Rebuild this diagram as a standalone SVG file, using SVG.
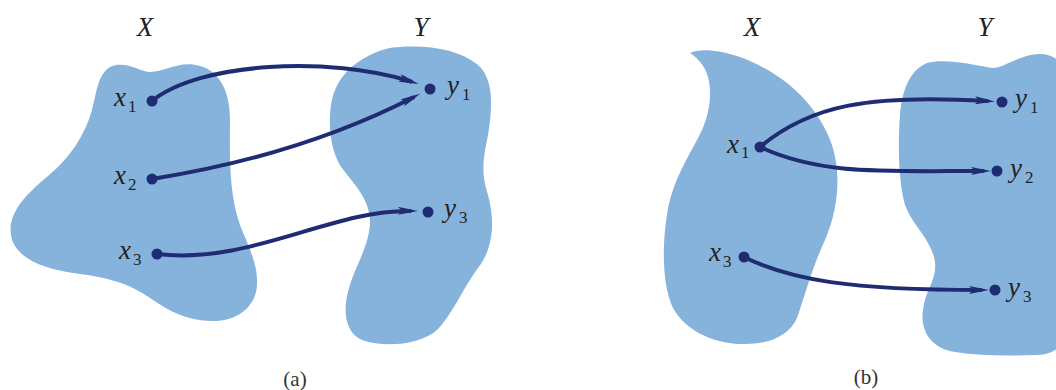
<svg xmlns="http://www.w3.org/2000/svg" width="1056" height="390" viewBox="0 0 1056 390">
<style>
.blob{fill:#86b3dc;stroke:none}
.arr{fill:none;stroke:#1f2c73;stroke-width:4;stroke-linecap:round;marker-end:url(#ah)}
.dot{fill:#1f2c73}
.v{font-family:"Liberation Serif","Times New Roman","DejaVu Serif",serif;font-style:italic;font-size:27px;fill:#222}
.s{font-family:"Liberation Serif","Times New Roman","DejaVu Serif",serif;font-size:17px;fill:#222}
.t{font-family:"Liberation Serif","Times New Roman","DejaVu Serif",serif;font-style:italic;font-size:27px;fill:#222;text-anchor:middle}
.c{font-family:"Liberation Serif","Times New Roman","DejaVu Serif",serif;font-size:21px;fill:#333;text-anchor:middle}
</style>
<defs>
<marker id="ah" viewBox="0 0 20 8" refX="12" refY="4" markerWidth="20" markerHeight="8" markerUnits="userSpaceOnUse" orient="auto">
<path d="M0,0 L20,4 L0,8 L4,4 Z" fill="#1f2c73"/>
</marker>
</defs>
<rect width="1056" height="390" fill="#fff"/>
<g id="panel-a">
<g id="setXa">
<path class="blob" d="M110,67 C125,60 140,72 150,72 C165,72 180,60 200,66 C222,72 230,95 230,120 C230,150 228,190 240,225 C250,250 258,265 257,285 C256,305 240,320 215,321 C190,322 170,312 150,298 C130,284 110,278 80,274 C50,270 20,262 12,240 C5,215 25,195 48,176 C70,158 85,135 92,110 C97,90 98,75 110,67 Z"/>
<text class="t" x="145" y="36">X</text>
</g>
<g id="setYa">
<path class="blob" d="M400,47 C430,45 460,50 478,65 C495,80 492,110 488,135 C484,155 480,170 488,195 C496,225 492,250 478,268 C462,290 452,315 437,330 C420,345 385,348 362,340 C345,333 343,310 348,292 C353,270 370,245 370,222 C370,200 355,185 345,172 C330,155 328,125 331,105 C335,80 350,65 370,55 C380,50 390,47 400,47 Z"/>
<text class="t" x="421" y="36">Y</text>
</g>
<g id="a-x1"><circle class="dot" cx="152" cy="101" r="5.5"/><text class="v" x="114" y="106">x</text><text class="s" x="128" y="112">1</text></g>
<g id="a-x2"><circle class="dot" cx="152" cy="179" r="5.5"/><text class="v" x="114" y="184">x</text><text class="s" x="128" y="190">2</text></g>
<g id="a-x3"><circle class="dot" cx="157" cy="254" r="5.5"/><text class="v" x="119" y="259">x</text><text class="s" x="133" y="265">3</text></g>
<g id="a-y1"><circle class="dot" cx="430" cy="89" r="5.5"/><text class="v" x="447" y="94">y</text><text class="s" x="462" y="100">1</text></g>
<g id="a-y3"><circle class="dot" cx="428" cy="212" r="5.5"/><text class="v" x="444" y="217">y</text><text class="s" x="459" y="223">3</text></g>
<text class="c" x="295" y="386">(a)</text>
</g>
<g id="panel-b">
<g id="setXb">
<path class="blob" d="M690,53 C700,48 720,50 740,57 C775,70 810,95 828,135 C842,165 840,205 825,240 C812,268 805,295 797,318 C788,338 765,345 740,344 C712,343 685,330 673,308 C662,285 662,245 667,215 C672,180 690,155 702,130 C712,108 713,80 703,66 C699,60 695,56 690,53 Z"/>
<text class="t" x="752" y="36">X</text>
</g>
<g id="setYb">
<path class="blob" d="M927,63 C945,58 975,65 992,68 C1005,68 1020,54 1040,54 C1060,54 1070,70 1070,100 L1070,320 C1068,345 1055,355 1035,355 C1010,356 980,356 955,352 C930,348 920,330 923,310 C925,290 937,280 935,262 C932,240 912,225 905,205 C898,180 898,140 900,115 C902,90 910,70 927,63 Z"/>
<text class="t" x="985" y="36">Y</text>
</g>
<g id="b-x1"><circle class="dot" cx="760" cy="147" r="5.5"/><text class="v" x="727" y="153">x</text><text class="s" x="741" y="158">1</text></g>
<g id="b-x3"><circle class="dot" cx="744" cy="257" r="5.5"/><text class="v" x="709" y="261">x</text><text class="s" x="723" y="267">3</text></g>
<g id="b-y1"><circle class="dot" cx="1002" cy="102" r="5.5"/><text class="v" x="1015" y="107">y</text><text class="s" x="1030" y="113">1</text></g>
<g id="b-y2"><circle class="dot" cx="997" cy="171" r="5.5"/><text class="v" x="1010" y="177">y</text><text class="s" x="1025" y="183">2</text></g>
<g id="b-y3"><circle class="dot" cx="995" cy="290" r="5.5"/><text class="v" x="1008" y="296">y</text><text class="s" x="1023" y="302">3</text></g>
<text class="c" x="866" y="384">(b)</text>
</g>
<g id="connectors">
<path class="arr" d="M152,101 C200,62 330,56 411,81.5"/>
<path class="arr" d="M152,179 C240,165 330,140 413,97.5"/>
<path class="arr" d="M157,254 C250,265 330,210 410,211"/>
<path class="arr" d="M760,147 C810,105 870,94 987,101"/>
<path class="arr" d="M760,147 C820,175 880,171 983,171"/>
<path class="arr" d="M744,257 C790,280 850,290 981,290"/>
</g>
</svg>
